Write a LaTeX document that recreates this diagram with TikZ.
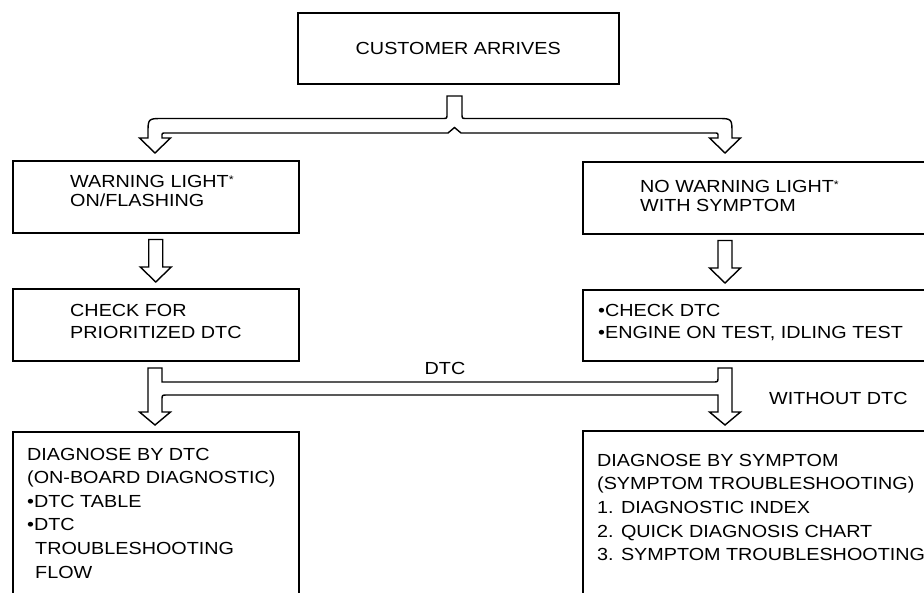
\documentclass[tikz,border=0pt]{standalone}
\usepackage{fontspec}
\setmainfont{Liberation Sans}[FakeStretch=1.13]
\usetikzlibrary{calc}
\newcommand\diafont[1]{\fontsize{17.5}{#1}\selectfont}
\newcommand\starmark{{\raisebox{4pt}{\fontsize{11}{11}\selectfont *}}}
\tikzset{
  box/.style={draw, line width=1.5pt, anchor=north west, inner sep=0pt},
  txt/.style={anchor=north west, inner sep=0pt, align=left},
  hollow/.style={draw, line width=1.4pt, fill=white, line join=miter},
}
\begin{document}
\begin{tikzpicture}[x=1pt,y=-1pt]
\useasboundingbox (0,0) rectangle (924,592);
\fill[white] (0,0) rectangle (924,592);
\clip (0,0) rectangle (924,592);

% boxes
\node[box, minimum width=321pt, minimum height=71pt] (top) at (297,12) {};
\node[box, minimum width=286pt, minimum height=72pt] (w1) at (12,160) {};
\node[box, minimum width=360pt, minimum height=72pt] (n1) at (582,161) {};
\node[box, minimum width=286pt, minimum height=72pt] (c1) at (12,288) {};
\node[box, minimum width=360pt, minimum height=71pt] (c2) at (582,289) {};
\node[box, minimum width=286pt, minimum height=200pt] (d1) at (12,431) {};
\node[box, minimum width=360pt, minimum height=200pt] (d2) at (582,430) {};

% texts
\node[inner sep=0pt, font=\diafont{20}] (ttop) at (top.center) {CUSTOMER ARRIVES};
\node[txt, font=\diafont{19.5}] (tw1) at (70,174.75) {WARNING LIGHT\starmark\\ON/FLASHING};
\node[txt, font=\diafont{19.5}] (tn1) at (640,179.75) {NO WARNING LIGHT\starmark\\WITH SYMPTOM};
\node[txt, font=\diafont{22}] (tc1) at (70,303.75) {CHECK FOR\\PRIORITIZED DTC};
\node[txt, font=\diafont{22}] (tc2) at (598,303.75) {•CHECK DTC\\•ENGINE ON TEST, IDLING TEST};
\node[txt, font=\diafont{23.6}] (td1) at (27,447.75) {DIAGNOSE BY DTC\\(ON-BOARD DIAGNOSTIC)\\•DTC TABLE\\•DTC\\\hspace*{8pt}TROUBLESHOOTING\\\hspace*{8pt}FLOW};
\node[txt, font=\diafont{23.7}] (td2) at (597,453.75) {DIAGNOSE BY SYMPTOM\\(SYMPTOM TROUBLESHOOTING)\\1. DIAGNOSTIC INDEX\\2. QUICK DIAGNOSIS CHART\\3. SYMPTOM TROUBLESHOOTING};
\node[inner sep=0pt, font=\diafont{20}] (ldtc) at (445,368) {DTC};
\node[inner sep=0pt, anchor=west, font=\diafont{20}] (lwo) at (769,398) {WITHOUT DTC};

% brace from CUSTOMER ARRIVES to both first boxes
\draw[hollow] (447,96) -- (462,96) -- (462,114) .. controls (462,118.5) .. (466.5,118.5)
  -- (717,118.5) .. controls (732,118.5) .. (732,133.5) -- (732,138) -- (740.5,138)
  -- (725,153) -- (709.5,138) -- (718,138) -- (718,136.5) .. controls (718,133) .. (714.5,133)
  -- (461,133) -- (454.5,127.5) -- (448,133) -- (165.5,133) .. controls (162,133) .. (162,136.5)
  -- (162,138) -- (170.5,138) -- (155,153) -- (139.5,138) -- (148,138) -- (148,133.5)
  .. controls (148,118.5) .. (163,118.5) -- (442.5,118.5) .. controls (447,118.5) .. (447,114) -- cycle;

% straight down arrows
\draw[hollow] ($(w1.south)+(-7,6)$) -- ($(w1.south)+(7,6)$) -- ($(c1.north)+(7,-21)$)
  -- ($(c1.north)+(15.5,-21)$) -- ($(c1.north)+(0,-6)$) -- ($(c1.north)+(-15.5,-21)$)
  -- ($(c1.north)+(-7,-21)$) -- cycle;
\draw[hollow] ($(n1.south west)+(136,6)$) -- ($(n1.south west)+(150,6)$) -- ($(c2.north west)+(150,-21)$)
  -- ($(c2.north west)+(158.5,-21)$) -- ($(c2.north west)+(143,-6)$) -- ($(c2.north west)+(127.5,-21)$)
  -- ($(c2.north west)+(136,-21)$) -- cycle;

% H connector between second and third rows
\draw[hollow] (148,368) -- (162,368) -- (162,382) -- (713,382) .. controls (718,382) .. (718,377)
  -- (718,368) -- (732,368) -- (732,412) -- (740.5,412) -- (725,425) -- (709.5,412)
  -- (718,412) -- (718,395) -- (167,395) .. controls (162,395) .. (162,400)
  -- (162,412) -- (170.5,412) -- (155,425) -- (139.5,412) -- (148,412) -- cycle;
\end{tikzpicture}
\end{document}
